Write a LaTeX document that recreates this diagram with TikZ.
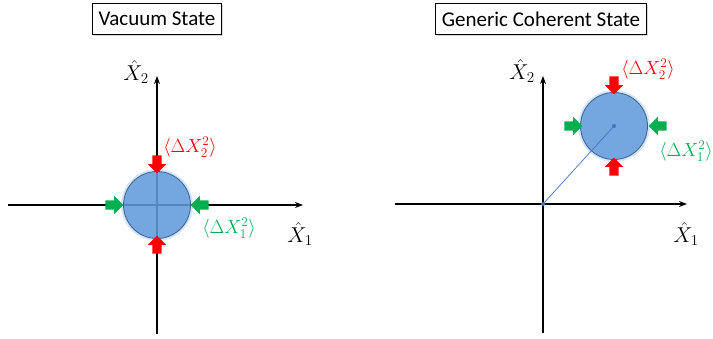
\RequirePackage{fix-cm}
\documentclass[tikz,border=0pt]{standalone}
\usepackage{amsmath,amssymb}
\usepackage{fontspec}
\setmainfont{Carlito}
\usepackage{tikz}
\usetikzlibrary{arrows.meta,positioning,shapes.arrows,shadows}
\definecolor{qblue}{RGB}{84,145,215}
\definecolor{qglow}{RGB}{170,205,240}
\definecolor{qedge}{RGB}{60,95,140}
\definecolor{qline}{RGB}{68,114,196}
\definecolor{qgreen}{RGB}{0,176,80}
\tikzset{
  titlebox/.style={draw, fill=white, line width=0.8pt, inner xsep=6pt, minimum height=31pt,
                   font=\fontsize{21}{24}\selectfont,
                   drop shadow={opacity=0.3, shadow xshift=1.5pt, shadow yshift=-1.5pt}},
  axis/.style={-{Stealth[length=8pt,width=6pt]}, line width=1.8pt},
  blob/.style={circle, draw=qedge, line width=0.8pt, fill=qblue, fill opacity=0.75,
               minimum size=67pt, inner sep=0pt},
  glow/.style={circle, fill=qglow, fill opacity=0.5, minimum size=72pt, inner sep=0pt},
  squeeze/.style={single arrow, minimum height=18pt, inner xsep=0pt, inner ysep=4.5pt,
                  single arrow head extend=4.5pt},
  lab/.style={font=\fontsize{19}{22}\selectfont},
  axlab/.style={font=\fontsize{21.5}{24}\selectfont},
}

\begin{document}
\begin{tikzpicture}[x=1pt, y=-1pt]
  \useasboundingbox (0,0) rectangle (713,339);
  % vacuum state
  \node[titlebox] (vtitle) at (157,19) {Vacuum State};
  \coordinate (vo) at (157,205);
  \coordinate (vl) at (8,205);
  \coordinate (vr) at (303,205);
  \coordinate (vb) at (157,334);
  \coordinate (vt) at (157,76);
  \draw[axis] (vl) -- (vr);
  \draw[axis] (vb) -- (vt);
  \node[glow] (vglow) at (vo) {};
  \node[blob] (vac) at (vo) {};
  \node[squeeze, fill=red, rotate=-90] (vd2t) at (157,162) {};
  \node[squeeze, fill=red, rotate=90] (vd2b) at (157,247) {};
  \node[squeeze, fill=qgreen] (vd1l) at (112,205) {};
  \node[squeeze, fill=qgreen, rotate=180] (vd1r) at (202,205) {};
  \node[lab, text=red] (vx2var) at (190,147) {$\langle\Delta X_2^2\rangle$};
  \node[lab, text=qgreen] (vx1var) at (229,228) {$\langle\Delta X_1^2\rangle$};
  \node[axlab] (vx1) at (300,234) {$\hat{X}_1$};
  \node[axlab] (vx2) at (136,72) {$\hat{X}_2$};
  % coherent state
  \node[titlebox] (ctitle) at (541,19) {Generic Coherent State};
  \coordinate (co) at (543,204);
  \coordinate (cl) at (395,204);
  \coordinate (cr) at (687,204);
  \coordinate (cb) at (543,333);
  \coordinate (ct) at (543,76);
  \draw[axis] (cl) -- (cr);
  \draw[axis] (cb) -- (ct);
  \node[glow] (cglow) at (614,126) {};
  \node[blob] (coh) at (614,126) {};
  \draw[qline, line width=0.7pt] (co) -- (coh.center);
  \fill[qline] (co) circle (2pt);
  \fill[qline] (coh.center) circle (2pt);
  \node[squeeze, fill=red, rotate=-90] (cd2t) at (614,83) {};
  \node[squeeze, fill=red, rotate=90] (cd2b) at (614,169) {};
  \node[squeeze, fill=qgreen] (cd1l) at (571,126) {};
  \node[squeeze, fill=qgreen, rotate=180] (cd1r) at (660,126) {};
  \node[lab, text=red] (cx2var) at (648,69) {$\langle\Delta X_2^2\rangle$};
  \node[lab, text=qgreen] (cx1var) at (686,151) {$\langle\Delta X_1^2\rangle$};
  \node[axlab] (cx1) at (686,234) {$\hat{X}_1$};
  \node[axlab] (cx2) at (522,71) {$\hat{X}_2$};
\end{tikzpicture}
\end{document}
